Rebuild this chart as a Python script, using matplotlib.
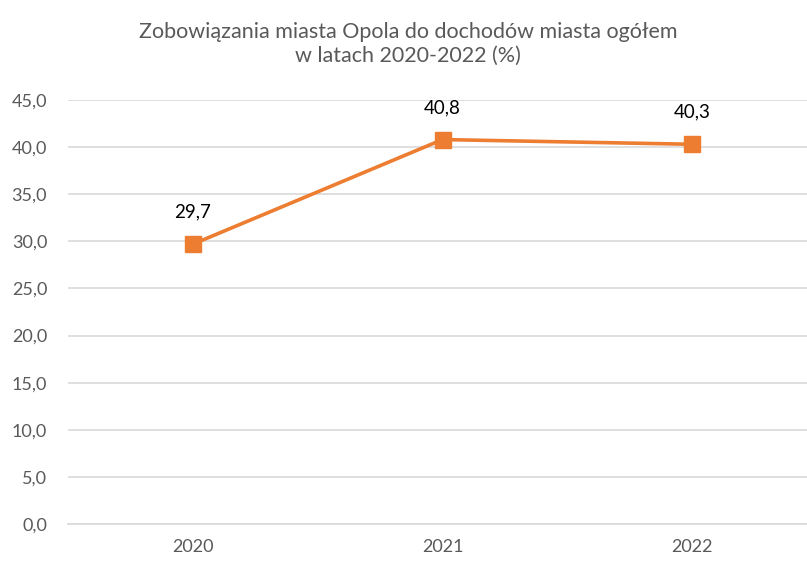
import matplotlib.pyplot as plt

# dane z wykresu
years = ['2020', '2021', '2022']
values = [29.7, 40.8, 40.3]
y_ticks = [0, 5, 10, 15, 20, 25, 30, 35, 40, 45]

plt.rcParams['font.family'] = ['Lato', 'DejaVu Sans']

fig = plt.figure(figsize=(8.07, 5.61), dpi=100)
ax = fig.add_axes([68 / 807, 37 / 561, 749 / 807, 424 / 561])

x = list(range(len(years)))
ax.plot(x, values, color='#ED7D31', linewidth=2.6, marker='s',
        markersize=11.5, zorder=3)

# etykiety danych
for xi, v in zip(x, values):
    ax.annotate(f'{v:.1f}'.replace('.', ','), (xi, v), xytext=(0, 17),
                textcoords='offset points', ha='center', va='bottom',
                fontsize=13.5, color='black')

ax.set_xlim(-0.5, 2.5)
ax.set_ylim(0, 45)
ax.set_xticks(x)
ax.set_xticklabels(years)
ax.set_yticks(y_ticks)
ax.set_yticklabels([f'{t:.1f}'.replace('.', ',') for t in y_ticks])
ax.tick_params(axis='both', length=0, labelsize=13, colors='#595959')
ax.tick_params(axis='x', pad=11)
ax.tick_params(axis='y', pad=15)

ax.grid(axis='y', color='#D9D9D9', linewidth=1.2)
ax.set_axisbelow(True)
for s in ['top', 'right', 'left']:
    ax.spines[s].set_visible(False)
ax.spines['bottom'].set_color('#D9D9D9')
ax.spines['bottom'].set_linewidth(1.2)

fig.text(408 / 807, 1 - 44 / 561,
         'Zobowiązania miasta Opola do dochodów miasta ogółem\nw latach 2020-2022 (%)',
         ha='center', va='center', fontsize=15.5, color='#595959', linespacing=1.25)

fig.savefig('out.png', dpi=100)
